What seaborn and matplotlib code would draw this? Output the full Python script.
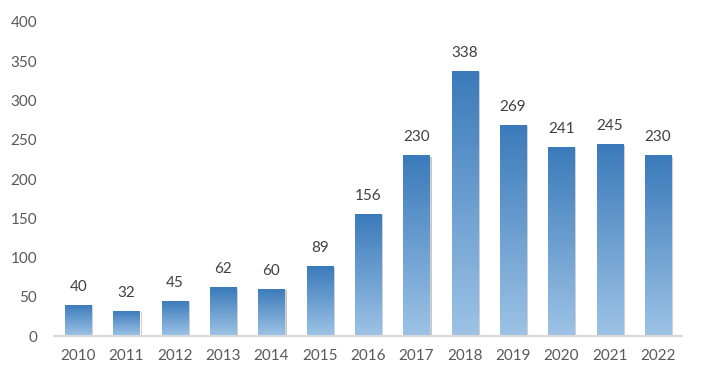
import numpy as np
import pandas as pd
import matplotlib
matplotlib.use('Agg')
import matplotlib.pyplot as plt
import matplotlib.patheffects as pe
from matplotlib.colors import LinearSegmentedColormap
import seaborn as sns

years = ['2010', '2011', '2012', '2013', '2014', '2015', '2016',
         '2017', '2018', '2019', '2020', '2021', '2022']
counts = [40, 32, 45, 62, 60, 89, 156, 230, 338, 269, 241, 245, 230]

df = pd.DataFrame({'year': years, 'count': counts})

sns.set_style('white')
plt.rcParams['font.family'] = ['Lato', 'DejaVu Sans']
text_color = '#595959'

fig = plt.figure(figsize=(7.05, 3.85), dpi=100)
ax = fig.add_axes([0.0766, 0.127, 0.891, 0.816])

sns.barplot(data=df, x='year', y='count', color='#3a7aba', width=0.54,
            saturation=1, ax=ax)

# vertical gradient fill, dark at the top, light at the bottom
cmap = LinearSegmentedColormap.from_list('blues', ['#9dc3e6', '#3a7aba'])
grad = np.linspace(0, 1, 256).reshape(-1, 1)
for bar in ax.patches:
    x0, y0 = bar.get_x(), bar.get_y()
    w, h = bar.get_width(), bar.get_height()
    bar.set_path_effects([pe.SimplePatchShadow(offset=(1.5, -1), shadow_rgbFace='#a0a0a0', alpha=0.6),
                          pe.Normal()])
    im = ax.imshow(grad, extent=[x0, x0 + w, y0, y0 + h], origin='lower',
                   aspect='auto', cmap=cmap, zorder=bar.get_zorder() + 0.1)
    im.set_clip_path(bar)
    ax.text(x0 + w / 2, y0 + h + 14, f'{int(h)}', ha='center', va='bottom',
            fontsize=11, color='#404040')

ax.set_xlim(-0.5, len(years) - 0.5)
ax.set_ylim(0, 400)
ax.set_yticks(range(0, 401, 50))
ax.set_xlabel('')
ax.set_ylabel('')
ax.tick_params(axis='both', length=0, labelsize=11, labelcolor=text_color)
ax.tick_params(axis='x', pad=9)
ax.tick_params(axis='y', pad=12)
sns.despine(ax=ax, left=True)
ax.spines['bottom'].set_color('#d9d9d9')
ax.spines['bottom'].set_linewidth(1.5)

fig.savefig('out.png', dpi=100)
